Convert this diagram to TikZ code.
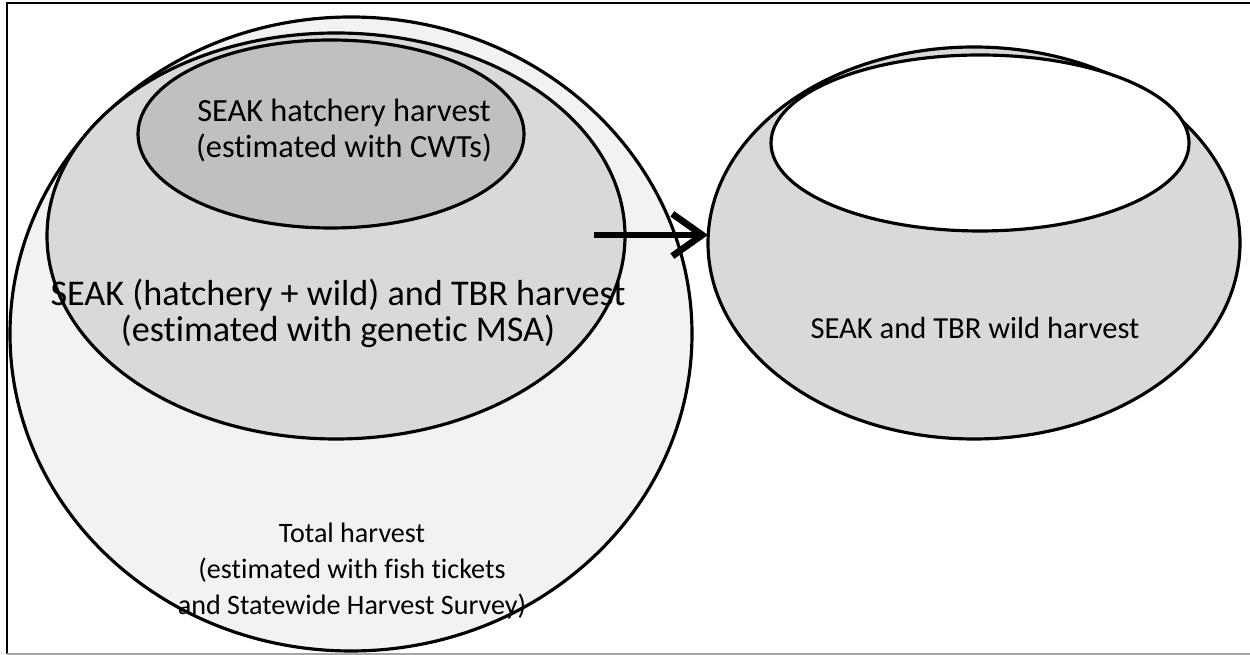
\documentclass[tikz,border=0pt]{standalone}
\usepackage{fontspec}
\setmainfont{Carlito}[RawFeature=-liga]
\usetikzlibrary{arrows.meta,positioning}
\definecolor{totalgray}{HTML}{F2F2F2}
\definecolor{msagray}{HTML}{D9D9D9}
\definecolor{cwtgray}{HTML}{C0C0C0}
\tikzset{
  pool/.style={draw=black, line width=1.8pt},
  poollabel/.style={align=center},
  bigarrow/.style={-{Straight Barb[length=17pt,width=24pt,line width=3.8pt]}, line width=3.8pt}
}

\begin{document}
\begin{tikzpicture}[x=0.02cm,y=0.02cm]

  \useasboundingbox (0,0) rectangle (1250,655);

  % frame
  \draw[line width=1.2pt] (7,1) -- (7,652) -- (1250,652);
  \draw[line width=1.2pt, gray!70] (7,1) -- (1250,1);

  % left pools
  \filldraw[pool, fill=totalgray] (351,321) ellipse [x radius=341, y radius=317];
  \filldraw[pool, fill=msagray] (336,419) ellipse [x radius=289, y radius=203];
  \filldraw[pool, fill=cwtgray] (331,521) ellipse [x radius=193, y radius=94];

  % right pool
  \filldraw[pool, fill=msagray] (974,412) ellipse [x radius=266, y radius=196];
  \filldraw[pool, fill=white] (980,512) ellipse [x radius=209, y radius=88];
  \coordinate (wildedge) at (708,420);

  % labels
  \node[poollabel, font=\fontsize{18.4}{20.5}\selectfont] (cwttext) at (344,524)
    {SEAK hatchery harvest\\(estimated with CWTs)};
  \node[poollabel, font=\fontsize{20.6}{20.5}\selectfont] (msatext) at (338,342)
    {SEAK (hatchery + wild) and TBR harvest\\(estimated with genetic MSA)};
  \node[poollabel, font=\fontsize{16}{20.5}\selectfont] (totaltext) at (352,84)
    {Total harvest\\(estimated with fish tickets\\and Statewide Harvest Survey)};
  \node[poollabel, font=\fontsize{17.4}{20.5}\selectfont] (wildtext) at (975,327)
    {SEAK and TBR wild harvest};

  % arrow
  \coordinate (arrstart) at (594,420);
  \draw[bigarrow] (arrstart) -- (wildedge);

\end{tikzpicture}
\end{document}
